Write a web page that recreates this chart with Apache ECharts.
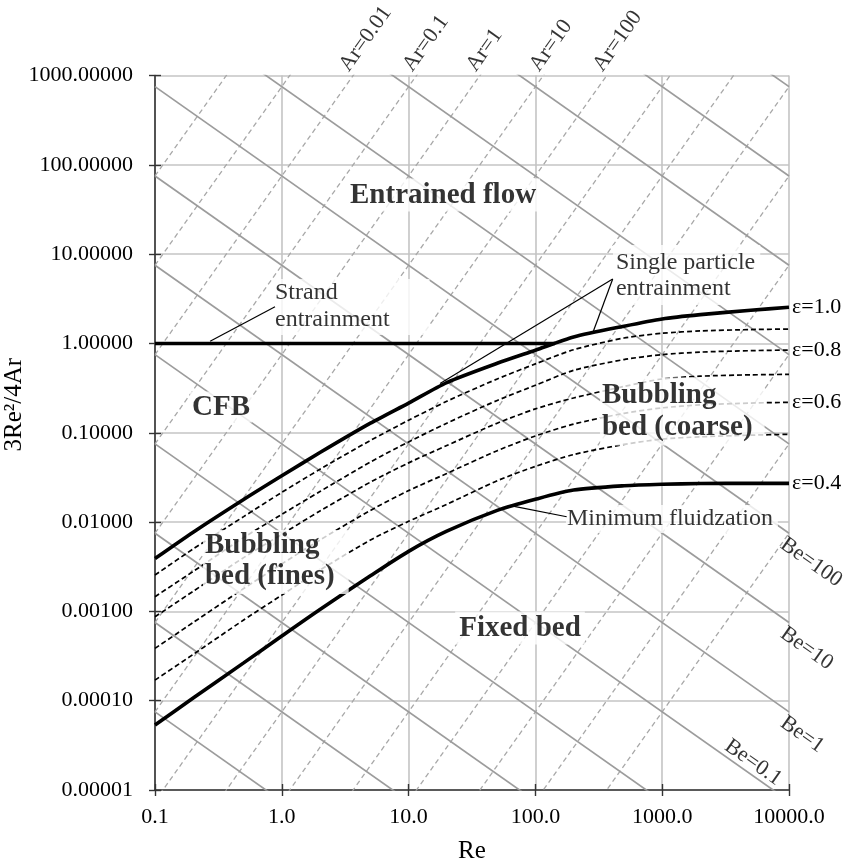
<!DOCTYPE html>
<html>
<head>
<meta charset="utf-8">
<script src="https://cdn.jsdelivr.net/npm/echarts@6/dist/echarts.min.js"></script>
<style>
  html, body { margin: 0; padding: 0; background: #ffffff; }
  #chart { width: 853px; height: 866px; }
</style>
</head>
<body>
<div id="chart"></div>
<script>
// Reynolds numbers at which the regime boundaries are tabulated
const reKnots = [0.1, 0.2, 0.5, 1, 2, 5, 10, 20, 50, 100, 200, 500, 1000, 2000, 5000, 10000];

// 3Re²/4Ar along each voidage curve (ε = 1.0 is the single-particle terminal velocity,
// ε = 0.4 is minimum fluidization)
const eps10 = [0.0039, 0.0077, 0.0179, 0.033, 0.060, 0.128, 0.215, 0.365, 0.60, 0.84, 1.18, 1.56, 1.88, 2.10, 2.35, 2.54];
const eps09 = [0.00255, 0.0050, 0.0115, 0.0215, 0.039, 0.082, 0.138, 0.225, 0.40, 0.59, 0.85, 1.15, 1.30, 1.38, 1.43, 1.45];
const eps08 = [0.00146, 0.0028, 0.0067, 0.0122, 0.022, 0.047, 0.079, 0.128, 0.23, 0.34, 0.50, 0.66, 0.75, 0.80, 0.83, 0.843];
const eps07 = [0.00087, 0.00168, 0.0040, 0.0073, 0.0133, 0.028, 0.046, 0.072, 0.128, 0.185, 0.245, 0.33, 0.40, 0.43, 0.445, 0.45];
const eps06 = [0.000385, 0.00075, 0.0018, 0.0034, 0.0063, 0.0135, 0.0225, 0.035, 0.063, 0.092, 0.125, 0.165, 0.19, 0.205, 0.215, 0.219];
const eps05 = [0.00017, 0.00033, 0.0008, 0.00152, 0.0029, 0.0063, 0.0102, 0.0158, 0.029, 0.042, 0.057, 0.074, 0.085, 0.090, 0.094, 0.096];
const eps04 = [0.0000535, 0.000107, 0.000265, 0.00053, 0.00105, 0.0025, 0.0047, 0.0079, 0.0135, 0.018, 0.0228, 0.0255, 0.0265, 0.027, 0.0271, 0.0271];

// Strand entrainment limit: 3Re²/4Ar = 1 up to where it meets the ε = 1.0 curve
const strandRe = [0.1, 143];
const strandLevel = 1;

// Reference families: constant Archimedes number and constant Be = Re³/Ar
const arValues = [1e-4, 1e-3, 1e-2, 1e-1, 1, 10, 100, 1e3, 1e4, 1e5, 1e6, 1e7, 1e8, 1e9, 1e10];
const arLabelled = [0.01, 0.1, 1, 10, 100];
const beValues = [1e-5, 1e-4, 1e-3, 1e-2, 1e-1, 1, 10, 100, 1e3, 1e4, 1e5, 1e6, 1e7];
const beLabelledEdge = [100, 10, 1];
const beLabelledBottom = [0.1];

// Axis extents
const reRange = [0.1, 10000];
const yRange = [0.00001, 1000];

const SERIF = '"Liberation Serif", "Times New Roman", serif';
const pairs = (ys) => reKnots.map((re, i) => [re, ys[i]]);

// y = 3Re²/4Ar along a line of constant Ar; y = 3Be/4Re along a line of constant Be
const arAt = (ar, re) => 3 * re * re / (4 * ar);
const beAt = (be, re) => 3 * be / (4 * re);

const series = [];

arValues.forEach((ar) => {
  series.push({
    type: 'line', z: 1, silent: true, showSymbol: false, clip: true,
    data: [[reRange[0], arAt(ar, reRange[0])], [reRange[1], arAt(ar, reRange[1])]],
    lineStyle: { color: '#a8a8a8', width: 1.3, type: [5, 3.5] }
  });
});

beValues.forEach((be) => {
  series.push({
    type: 'line', z: 1, silent: true, showSymbol: false, clip: true,
    data: [[reRange[0], beAt(be, reRange[0])], [reRange[1], beAt(be, reRange[1])]],
    lineStyle: { color: '#9c9c9c', width: 1.7 }
  });
});

const endLabel = (text) => ({
  show: true, formatter: text, color: '#000', fontFamily: SERIF, fontSize: 22, distance: 3
});

const curve = (ys, style, label) => {
  const s = {
    type: 'line', z: 3, silent: true, showSymbol: false, smooth: 0.25,
    data: pairs(ys), lineStyle: style
  };
  if (label) s.endLabel = endLabel(label);
  return s;
};

const thick = { color: '#000', width: 3.6 };
const dashed = { color: '#000', width: 1.7, type: [5, 3] };

series.push(curve(eps10, thick, 'ε=1.0'));
series.push(curve(eps09, dashed));
series.push(curve(eps08, dashed, 'ε=0.8'));
series.push(curve(eps07, dashed));
series.push(curve(eps06, dashed, 'ε=0.6'));
series.push(curve(eps05, dashed));
series.push(curve(eps04, thick, 'ε=0.4'));

series.push({
  type: 'line', z: 3, silent: true, showSymbol: false,
  data: strandRe.map((re) => [re, strandLevel]),
  lineStyle: thick
});

// Leader lines from the annotation boxes to the curves they describe
const leaders = [
  [[0.272, 1.06], [0.884, 2.58]],
  [[407, 5.26], [17.7, 0.355]],
  [[407, 5.26], [286, 1.36]],
  [[66.5, 0.0151], [176.5, 0.01146]]
];
leaders.forEach((seg) => {
  series.push({
    type: 'line', z: 6, silent: true, showSymbol: false, data: seg,
    lineStyle: { color: '#000', width: 1.2 }
  });
});

// Regime annotations (white boxes sit on top of the reference lines)
const boxed = (value, text, opts) => ({
  value,
  label: Object.assign({
    show: true, formatter: text, position: 'inside', color: '#000',
    fontFamily: SERIF, fontSize: 24, backgroundColor: '#ffffff'
  }, opts)
});
const bold = { fontWeight: 'bold', fontSize: 29 };

series.push({
  type: 'scatter', z: 5, silent: true, symbolSize: 0.5,
  itemStyle: { color: 'rgba(0,0,0,0)' },
  data: [
    boxed([18.7, 45.9], 'Entrained flow', Object.assign({ align: 'center', verticalAlign: 'middle', padding: [2, 4] }, bold)),
    boxed([0.332, 0.194], 'CFB', Object.assign({ align: 'center', verticalAlign: 'middle', padding: [1, 2] }, bold)),
    boxed([75.6, 0.00065], 'Fixed bed', Object.assign({ align: 'center', verticalAlign: 'middle', padding: [2, 4] }, bold)),
    boxed([0.837, 5.26], 'Strand\nentrainment', { align: 'left', verticalAlign: 'top', lineHeight: 27, padding: [0, 40, 2, 3] }),
    boxed([409, 12.65], 'Single particle\nentrainment', { align: 'left', verticalAlign: 'top', lineHeight: 26, padding: [5, 5, 3, 3] }),
    boxed([323, 0.415], 'Bubbling\nbed (coarse)', Object.assign({ align: 'left', verticalAlign: 'top', lineHeight: 32, padding: [2, 12, 2, 2] }, bold)),
    boxed([0.239, 0.00813], 'Bubbling\nbed (fines)', Object.assign({ align: 'left', verticalAlign: 'top', lineHeight: 31, padding: [0, 14, 2, 2] }, bold)),
    boxed([174, 0.0108], 'Minimum fluidzation', { align: 'left', verticalAlign: 'middle', padding: [2, 5, 2, 1] })
  ]
});

// Ar labels where each labelled Ar line leaves the top of the plot
series.push({
  type: 'scatter', z: 4, silent: true, symbolSize: 0.5,
  itemStyle: { color: 'rgba(0,0,0,0)' },
  data: arLabelled.map((ar) => ({
    value: [Math.sqrt(4 * ar * yRange[1] / 3), yRange[1]],
    label: {
      show: true, formatter: 'Ar=' + ar, position: 'inside', align: 'left', verticalAlign: 'bottom',
      rotate: 54.6, color: '#000', fontFamily: SERIF, fontSize: 22
    }
  }))
});

// Be labels: at the right edge, and inside the plot for the line that leaves through the bottom
series.push({
  type: 'scatter', z: 4, silent: true, symbolSize: 0.5,
  itemStyle: { color: 'rgba(0,0,0,0)' },
  data: beLabelledEdge.map((be) => ({
    value: [reRange[1], beAt(be, reRange[1])],
    label: {
      show: true, formatter: 'Be=' + be, position: 'inside', align: 'left', verticalAlign: 'top',
      rotate: -35.2, color: '#000', fontFamily: SERIF, fontSize: 22
    }
  })).concat(beLabelledBottom.map((be) => ({
    value: [3 * be / (4 * yRange[0]), yRange[0]],
    label: {
      show: true, formatter: 'Be=' + be, position: 'inside', align: 'right', verticalAlign: 'bottom',
      rotate: -35.2, color: '#000', fontFamily: SERIF, fontSize: 22
    }
  })))
});

// Second pair of axes only supplies the inner half of each tick mark
const innerTicks = (base) => Object.assign({}, base, {
  name: '', axisLine: { show: false }, axisLabel: { show: false }, splitLine: { show: false },
  axisTick: { show: true, inside: true, length: 6, lineStyle: { color: '#333', width: 1.4 } }
});

const xMain = {
  type: 'log', logBase: 10, min: reRange[0], max: reRange[1], splitNumber: 5, position: 'bottom',
  name: 'Re', nameLocation: 'middle', nameGap: 49, nameMoveOverlap: false,
  nameTextStyle: { color: '#000', fontSize: 25, fontFamily: SERIF },
  axisLine: { show: true, onZero: false, lineStyle: { color: '#333', width: 1.6 } },
  axisTick: { show: true, length: 6, lineStyle: { color: '#333', width: 1.4 } },
  axisLabel: { color: '#000', fontSize: 22, fontFamily: SERIF, margin: 16,
    formatter: (v) => Number(v).toFixed(1) },
  splitLine: { show: true, lineStyle: { color: '#c4c4c4', width: 1.6 } },
  minorTick: { show: false }
};
const yMain = {
  type: 'log', logBase: 10, min: yRange[0], max: yRange[1], splitNumber: 8, position: 'left',
  name: '3Re²/4Ar', nameLocation: 'middle', nameGap: 128, nameRotate: 90, nameMoveOverlap: false,
  nameTextStyle: { color: '#000', fontSize: 25, fontFamily: SERIF, padding: [0, 0, 0, 56] },
  axisLine: { show: true, onZero: false, lineStyle: { color: '#333', width: 1.6 } },
  axisTick: { show: true, length: 6, lineStyle: { color: '#333', width: 1.4 } },
  axisLabel: { color: '#000', fontSize: 22, fontFamily: SERIF, margin: 22,
    formatter: (v) => Number(v).toFixed(5) },
  splitLine: { show: true, lineStyle: { color: '#c4c4c4', width: 1.6 } },
  minorTick: { show: false }
};

const chart = echarts.init(document.getElementById('chart'), null, { renderer: 'canvas' });
chart.setOption({
  animation: false,
  backgroundColor: '#ffffff',
  textStyle: { fontFamily: SERIF },
  grid: { left: 155, top: 75.5, right: 64, bottom: 76, containLabel: false, outerBoundsMode: 'none' },
  xAxis: [xMain, innerTicks(xMain)],
  yAxis: [yMain, innerTicks(yMain)],
  series
});
</script>
</body>
</html>
